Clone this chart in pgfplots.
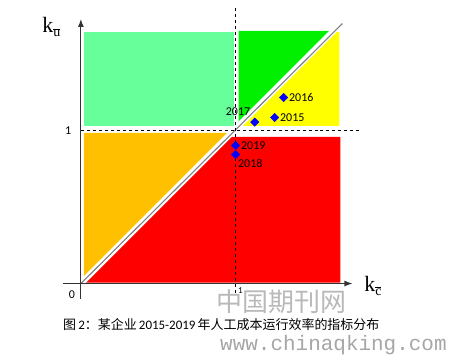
\documentclass[border=0pt]{standalone}
\usepackage{pgfplots}
\pgfplotsset{compat=1.18}
\usepackage{fontspec}
\setmainfont{Carlito}
\newfontfamily\cjk{Noto Sans CJK SC}
\newfontfamily\kfont{Liberation Serif}
\newfontfamily\wmfont{Liberation Mono}
\usetikzlibrary{arrows.meta}
\definecolor{lgreen}{HTML}{66FF99}
\definecolor{mgreen}{HTML}{00F000}
\definecolor{myellow}{HTML}{FFFF00}
\definecolor{morange}{HTML}{FFC000}
\definecolor{mred}{HTML}{FF0000}
\definecolor{mblue}{HTML}{0000FF}
\begin{document}
\begin{tikzpicture}
\begin{axis}[
  scale only axis, width=450pt, height=361pt,
  xmin=-0.5226, xmax=2.3806, ymin=-0.4968, ymax=1.8323,
  axis lines=none, clip=false,
]
\path (rel axis cs:0,0) rectangle (rel axis cs:1,1);
% regions
\addplot[fill=lgreen, draw=none] coordinates {(0.019,1.019) (0.987,1.019) (0.987,1.626) (0.019,1.626)} -- cycle;
\addplot[fill=mgreen, draw=none] coordinates {(1.019,1.019) (1.019,1.632) (1.632,1.632)} -- cycle;
\addplot[fill=myellow, draw=none] coordinates {(1.019,1.019) (1.671,1.019) (1.671,1.626) (1.626,1.626)} -- cycle;
\addplot[fill=morange, draw=none] coordinates {(0.019,0.019) (0.019,0.974) (0.974,0.974)} -- cycle;
\addplot[fill=mred, draw=none] coordinates {(0.006,0.006) (1.677,0.006) (1.677,0.948) (0.948,0.948)} -- cycle;
% diagonal
\addplot[white, line width=6pt] coordinates {(0.01,0.01) (1.68,1.68)};
\addplot[gray, line width=1.1pt] coordinates {(0,0) (1.69,1.68)};
% dashed lines
\addplot[black, dashed, line width=0.8pt] coordinates {(1,-0.06) (1,1.787)};
\addplot[black, dashed, line width=0.8pt] coordinates {(0,0.989) (1.794,0.989)};
% axes
\addplot[gray!40!black, line width=1.2pt, -{Latex[length=8pt,width=6pt]}] coordinates {(-0.116,0) (1.755,0)};
\addplot[gray!40!black, line width=1.2pt, -{Latex[length=8pt,width=6pt]}] coordinates {(0,-0.097) (0,1.71)};
% points
\addplot[only marks, mark=square*, mark options={rotate=45, fill=mblue, draw=mblue}, mark size=3pt,
  nodes near coords, point meta=explicit symbolic,
  every node near coord/.append style={font=\fontsize{12}{12}\selectfont, black, anchor=west, xshift=2pt}]
  coordinates {(1.310,1.202) [2016] (1.252,1.073) [2015] (1.0,0.892) [2019]};
\addplot[only marks, mark=square*, mark options={rotate=45, fill=mblue, draw=mblue}, mark size=3pt,
  nodes near coords, point meta=explicit symbolic,
  every node near coord/.append style={font=\fontsize{12}{12}\selectfont, black, anchor=north west, xshift=-1pt, yshift=-1pt}]
  coordinates {(1.0,0.834) [2018]};
\addplot[only marks, mark=square*, mark options={rotate=45, fill=mblue, draw=mblue}, mark size=3pt,
  nodes near coords, point meta=explicit symbolic,
  every node near coord/.append style={font=\fontsize{12}{12}\selectfont, black, anchor=south east, xshift=-1pt, yshift=3pt}]
  coordinates {(1.123,1.043) [2017]};
% tick labels
\node[font=\fontsize{12}{12}\selectfont, anchor=east] at (axis cs:-0.04,0.99) {1};
\node[font=\fontsize{12}{12}\selectfont] at (axis cs:-0.058,-0.07) {0};
\node[font=\fontsize{9}{9}\selectfont] at (axis cs:1.03,-0.045) {1};
% axis labels
\node[anchor=base west, inner sep=0pt] at (axis cs:-0.25,1.62) {\kfont\fontsize{22}{22}\selectfont k\raisebox{-4pt}{\fontsize{14}{14}\selectfont$\overline{\hbox{\kfont u}}$}};
\node[anchor=base west, inner sep=0pt] at (axis cs:1.83,-0.05) {\kfont\fontsize{22}{22}\selectfont k\raisebox{-4pt}{\fontsize{14}{14}\selectfont$\overline{\hbox{\kfont c}}$}};
% watermark
\node[text=gray!55, font=\cjk\fontsize{26}{26}\selectfont] at (axis cs:1.297,-0.116) {中国期刊网};
% caption
\node[anchor=west, inner sep=0pt, font=\fontsize{13}{13}\selectfont] at (axis cs:-0.116,-0.2645) {{\cjk 图}\,2{\cjk：某企业}\,2015-2019\,{\cjk 年人工成本运行效率的指标分布}};
\node[text=gray!70, font=\wmfont\fontsize{21}{21}\selectfont] at (axis cs:1.632,-0.40) {www.chinaqking.com};
\end{axis}
\end{tikzpicture}
\end{document}
